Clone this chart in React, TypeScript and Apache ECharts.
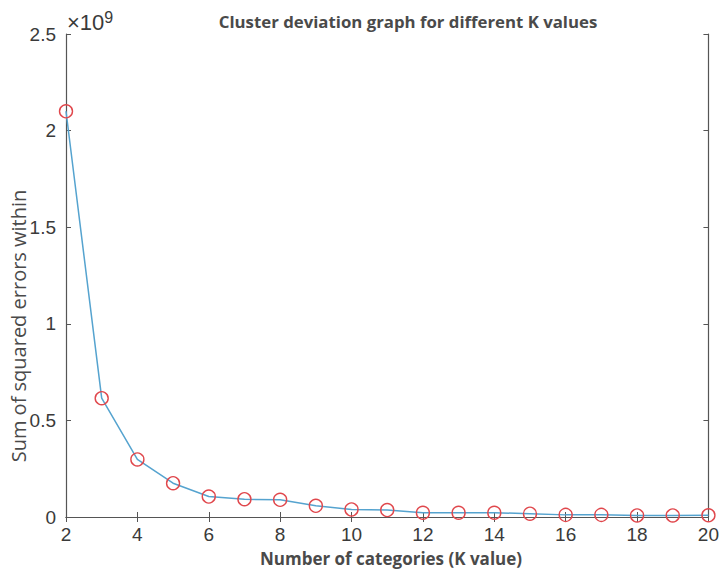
import React, { useEffect, useRef } from "react";
import * as echarts from "echarts";

const kValues = [2, 3, 4, 5, 6, 7, 8, 9, 10, 11, 12, 13, 14, 15, 16, 17, 18, 19, 20];
const sseValues = [2.1, 0.615, 0.298, 0.175, 0.106, 0.092, 0.089, 0.058, 0.039, 0.036, 0.022, 0.022, 0.022, 0.017, 0.011, 0.011, 0.008, 0.008, 0.009];
const yTickLabels: Record<string, string> = { "0": "0", "0.5": "0.5", "1": "1", "1.5": "1.5", "2": "2", "2.5": "2.5" };
const titleText = "Cluster deviation graph for different K values";
const xName = "Number of categories (K value)";
const yName = "Sum of squared errors within";
const exponentBase = "×10";
const exponentPower = "9";

export default function App() {
  const ref = useRef<HTMLDivElement>(null);
  useEffect(() => {
    const chart = echarts.init(ref.current!, null, { renderer: "svg" });
    const axisColor = "#555";
    const numFont = "Liberation Sans, Arial, sans-serif";
    const labelFont = { fontFamily: numFont, fontSize: 19, color: "#3a3a3a" };
    const grid = { left: 66, right: 12, top: 34, bottom: 53 };
    chart.setOption({
      animation: false,
      backgroundColor: "#fff",
      grid,
      title: {
        text: titleText,
        left: 403,
        top: 8,
        textAlign: "center",
        textStyle: { fontFamily: "Open Sans, Noto Sans, sans-serif", fontWeight: "bold", fontSize: 16.8, color: "#4a4a4a" },
      },
      xAxis: [
        {
          type: "value",
          min: 2,
          max: 20,
          interval: 2,
          axisLine: { show: true, lineStyle: { color: axisColor, width: 1.2 } },
          axisTick: { show: true, inside: true, length: 5, lineStyle: { color: axisColor } },
          axisLabel: { ...labelFont, margin: 8 },
          splitLine: { show: false },
        },
        {
          type: "value",
          position: "top",
          min: 2,
          max: 20,
          interval: 2,
          axisLine: { show: true, lineStyle: { color: axisColor, width: 1.2 } },
          axisTick: { show: true, inside: true, length: 5, lineStyle: { color: axisColor } },
          axisLabel: { show: false },
          splitLine: { show: false },
        },
      ],
      yAxis: [
        {
          type: "value",
          min: 0,
          max: 2.5,
          interval: 0.5,
          name: `{a|${exponentBase}}{b|${exponentPower}}`,
          nameLocation: "end",
          nameGap: 1,
          nameTextStyle: {
            align: "left",
            verticalAlign: "bottom",
            padding: [0, 0, 0, 1],
            rich: {
              a: { fontSize: 22, fontFamily: numFont, color: "#3a3a3a", lineHeight: 24, verticalAlign: "bottom" },
              b: { fontSize: 16, fontFamily: numFont, color: "#3a3a3a", lineHeight: 24, verticalAlign: "top" },
            },
          },
          axisLine: { show: true, lineStyle: { color: axisColor, width: 1.2 } },
          axisTick: { show: true, inside: true, length: 5, lineStyle: { color: axisColor } },
          axisLabel: { ...labelFont, margin: 10, formatter: (v: number) => yTickLabels[String(v)] ?? String(v) },
          splitLine: { show: false },
        },
        {
          type: "value",
          position: "right",
          min: 0,
          max: 2.5,
          interval: 0.5,
          axisLine: { show: true, lineStyle: { color: axisColor, width: 1.2 } },
          axisTick: { show: true, inside: true, length: 5, lineStyle: { color: axisColor } },
          axisLabel: { show: false },
          splitLine: { show: false },
        },
      ],
      graphic: [
        {
          type: "text",
          x: 391,
          y: 558,
          style: {
            text: xName,
            align: "center",
            verticalAlign: "middle",
            fontSize: 17,
            fontWeight: "bold",
            fontFamily: "Open Sans, Noto Sans, sans-serif",
            fill: "#4a4a4a",
          },
        },
        {
          type: "text",
          x: 18,
          y: 326,
          rotation: Math.PI / 2,
          style: {
            text: yName,
            align: "center",
            verticalAlign: "middle",
            fontSize: 20,
            fontFamily: "Open Sans, Noto Sans, sans-serif",
            fill: "#4a4a4a",
          },
        },
      ],
      series: [
        {
          type: "line",
          data: kValues.map((k, i) => [k, sseValues[i]]),
          symbol: "circle",
          symbolSize: 13,
          showSymbol: true,
          lineStyle: { color: "#55a3cf", width: 1.5 },
          itemStyle: { color: "transparent", borderColor: "#e0474c", borderWidth: 1.4 },
          clip: false,
        },
      ],
    });
    return () => chart.dispose();
  }, []);
  return <div ref={ref} style={{ width: 722, height: 570, position: "absolute", left: 0, top: 0 }} />;
}
